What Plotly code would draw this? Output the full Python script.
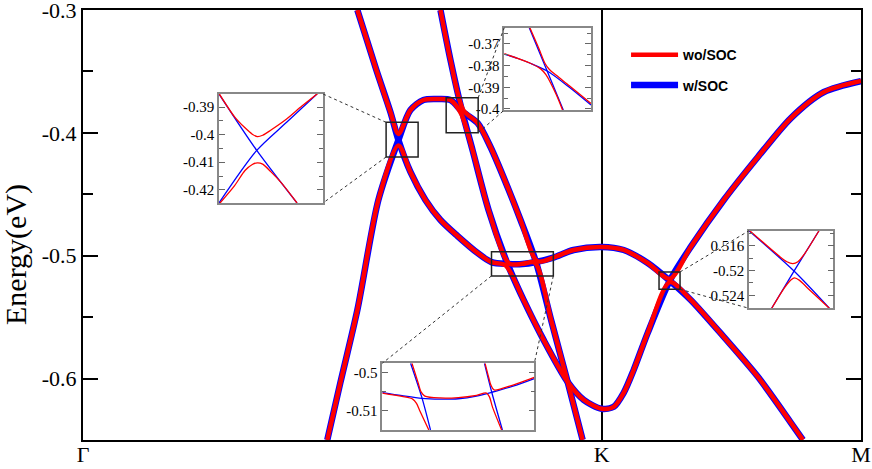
import plotly.graph_objects as go

# ---------------- data ----------------
K_RANGE = [0.0, 1.5]
E_RANGE = [-0.65, -0.29995]
kpt_pos = [0.0, 1.0, 1.5]
kpt_lbl = ["Γ", "K", "M"]
ytick_vals = [-0.6, -0.5, -0.4, -0.3]
ytick_text = ["-0.6", "-0.5", "-0.4", "-0.3"]
series_names = ["wo/SOC", "w/SOC"]
y_title = "Energy(eV)"

# w/SOC (blue) bands, crossings kept
bandP_k = [0.5290, 0.5656, 0.5927, 0.6081, 0.6313, 0.6602, 0.6892, 0.7220, 0.7606, 0.7876,
           0.8186, 0.8472, 0.8734, 0.9068, 0.9459, 1.0, 1.0425, 1.0888, 1.1313, 1.1718,
           1.2355, 1.3012, 1.3649, 1.3880]
bandP_e = [-0.3000, -0.3488, -0.3830, -0.4058, -0.4318, -0.4546, -0.4709, -0.4839, -0.4977, -0.5052,
           -0.5067, -0.5068, -0.5051, -0.5015, -0.4953, -0.4928, -0.4953, -0.5059, -0.5203, -0.5360,
           -0.5661, -0.5986, -0.6360, -0.6499]
bandQ_k = [0.4710, 0.4961, 0.5290, 0.5695, 0.6081, 0.6313, 0.6564, 0.6834, 0.7085, 0.7310,
           0.7606, 0.7857, 0.8185, 0.8436, 0.8734, 0.9035, 0.9344, 0.9633]
bandQ_e = [-0.6499, -0.6035, -0.5441, -0.4546, -0.4058, -0.3814, -0.3732, -0.3724, -0.3732, -0.3826,
           -0.3919, -0.4115, -0.4440, -0.4709, -0.5051, -0.5539, -0.6027, -0.6499]
bandR_k = [0.6892, 0.7085, 0.7310, 0.7510, 0.7819, 0.8186, 0.8494, 0.8880, 0.9344, 0.9653,
           1.0, 1.0232, 1.0425, 1.0618, 1.0888, 1.1313, 1.1718, 1.2355, 1.3012, 1.3649,
           1.4286, 1.5]
bandR_e = [-0.3000, -0.3407, -0.3826, -0.4139, -0.4627, -0.5067, -0.5360, -0.5685, -0.6027, -0.6173,
           -0.6246, -0.6230, -0.6116, -0.5929, -0.5628, -0.5203, -0.4928, -0.4546, -0.4196, -0.3879,
           -0.3667, -0.3578]

# wo/SOC (red) bands, anticrossings
red1_k = [0.5290, 0.5656, 0.5927, 0.6081, 0.6313, 0.6564, 0.6834, 0.7085, 0.7290, 0.7510,
          0.7819, 0.8215, 0.8472, 0.8710, 0.9035, 0.9344, 0.9633]
red1_e = [-0.3000, -0.3488, -0.3830, -0.4008, -0.3814, -0.3732, -0.3724, -0.3732, -0.3843, -0.4139,
          -0.4627, -0.5063, -0.5066, -0.5056, -0.5539, -0.6027, -0.6499]
red2_k = [0.4710, 0.4961, 0.5290, 0.5695, 0.6081, 0.6313, 0.6602, 0.6892, 0.7220, 0.7606,
          0.7876, 0.8150, 0.8494, 0.8880, 0.9344, 0.9653, 1.0, 1.0232, 1.0425, 1.0618,
          1.0888, 1.1313, 1.1718, 1.2355, 1.3012, 1.3649, 1.3880]
red2_e = [-0.6499, -0.6035, -0.5441, -0.4546, -0.4102, -0.4318, -0.4546, -0.4709, -0.4839, -0.4977,
          -0.5052, -0.5080, -0.5360, -0.5685, -0.6027, -0.6173, -0.6246, -0.6230, -0.6116, -0.5929,
          -0.5628, -0.5215, -0.5360, -0.5661, -0.5986, -0.6360, -0.6499]
red3_k = [0.6892, 0.7085, 0.7330, 0.7606, 0.7857, 0.8185, 0.8436, 0.8760, 0.9068, 0.9459,
          1.0, 1.0425, 1.0888, 1.1313, 1.1718, 1.2355, 1.3012, 1.3649, 1.4286, 1.5]
red3_e = [-0.3000, -0.3407, -0.3812, -0.3919, -0.4115, -0.4440, -0.4709, -0.5045, -0.5015, -0.4953,
          -0.4928, -0.4953, -0.5059, -0.5188, -0.4928, -0.4546, -0.4196, -0.3879, -0.3667, -0.3578]

# zoom windows drawn on the main plot (k range, E range)
box_k = [[0.5844, 0.6461], [0.7002, 0.7619], [0.7876, 0.9068], [1.1106, 1.1511]]
box_e = [[-0.4196, -0.3914], [-0.3999, -0.3714], [-0.5164, -0.4967], [-0.5273, -0.5132]]

# inset 1 (crossing near -0.405), x = fraction of window
in1_range = [-0.4248, -0.3852]
in1_ticks = [-0.42, -0.41, -0.4, -0.39]
in1_text = ["-0.42", "-0.41", "-0.4", "-0.39"]
in1_blue = [([0.0, 0.363, 0.75], [-0.3852, -0.4057, -0.4248]),
            ([0.0, 0.363, 0.653, 0.942], [-0.4248, -0.4057, -0.3954, -0.3852])]
in1_red = [([0.0, 0.15, 0.25, 0.32, 0.37, 0.42, 0.50, 0.65, 0.80, 0.95],
            [-0.3850, -0.3935, -0.3975, -0.3998, -0.4007, -0.4002, -0.3983, -0.3943, -0.3895, -0.3850]),
           ([0.01, 0.15, 0.25, 0.32, 0.37, 0.42, 0.50, 0.60, 0.75],
            [-0.4248, -0.4185, -0.4130, -0.4108, -0.4102, -0.4107, -0.4135, -0.4175, -0.4248])]

# inset 2 (crossing near -0.383)
in2_range = [-0.4005, -0.3625]
in2_ticks = [-0.4, -0.39, -0.38, -0.37]
in2_text = ["-0.4", "-0.39", "-0.38", "-0.37"]
in2_blue = [([0.0, 0.15, 0.3, 0.5, 0.75, 1.0], [-0.3747, -0.3766, -0.3789, -0.3826, -0.3900, -0.3982]),
            ([0.288, 0.5, 0.68], [-0.3625, -0.3831, -0.4005])]
in2_red = [([0.295, 0.40, 0.47, 0.52, 0.60, 0.75, 1.0],
            [-0.3625, -0.3722, -0.3790, -0.3818, -0.3845, -0.3893, -0.3975]),
           ([0.0, 0.3, 0.42, 0.48, 0.53, 0.60, 0.672],
            [-0.3745, -0.3789, -0.3815, -0.3842, -0.3877, -0.3935, -0.4005])]

# inset 3 (flat band near -0.506)
in3_range = [-0.515, -0.4975]
in3_ticks = [-0.51, -0.5]
in3_text = ["-0.51", "-0.5"]
in3_blue = [([0.0, 0.13, 0.26, 0.38, 0.5, 0.62, 0.72, 0.86, 1.0],
             [-0.5052, -0.5060, -0.5067, -0.5069, -0.5068, -0.5061, -0.5051, -0.5035, -0.5015]),
            ([0.186, 0.262, 0.317], [-0.4975, -0.5067, -0.5150]),
            ([0.672, 0.72, 0.79], [-0.4975, -0.5051, -0.5150])]
in3_red = [([0.195, 0.235, 0.255, 0.28, 0.38, 0.5, 0.62, 0.685, 0.705, 0.725, 0.785],
            [-0.4975, -0.5025, -0.5050, -0.5061, -0.5066, -0.5065, -0.5059, -0.5053, -0.5063, -0.5090, -0.5150]),
           ([0.0, 0.13, 0.20, 0.225, 0.245, 0.306],
            [-0.5053, -0.5062, -0.5069, -0.5080, -0.5098, -0.5150]),
           ([0.676, 0.70, 0.715, 0.735, 0.86, 1.0],
            [-0.4975, -0.5012, -0.5033, -0.5045, -0.5032, -0.5012])]

# inset 4 (crossing near -0.520)
in4_range = [-0.5261, -0.5136]
in4_ticks = [-0.524, -0.52, -0.516]
in4_text = ["0.524", "-0.52", "0.516"]
in4_blue = [([0.0, 0.534, 0.953], [-0.5136, -0.5201, -0.5261]),
            ([0.269, 0.534, 0.83], [-0.5261, -0.5201, -0.5136])]
in4_red = [([0.0, 0.35, 0.45, 0.52, 0.58, 0.65, 0.83],
            [-0.5135, -0.5176, -0.5186, -0.5189, -0.5186, -0.5175, -0.5136]),
           ([0.27, 0.42, 0.50, 0.54, 0.60, 0.70, 0.953],
            [-0.5261, -0.5228, -0.5215, -0.5212, -0.5216, -0.5229, -0.5261])]

# ---------------- style / layout ----------------
W, H = 872, 469
ML, MR, MT, MB = 83, 11, 10, 29
RED = "#ff0000"
BLUE = "#0000ff"
SERIF = "Liberation Serif"

# inset placements (paper fractions): x domain, y domain
inset_dom = [
    ([0.1748, 0.3085], [0.5512, 0.8047]),
    ([0.5415, 0.6530], [0.7674, 0.9588]),
    ([0.3847, 0.5801], [0.0233, 0.1784]),
    ([0.8560, 0.9644], [0.3063, 0.4867]),
]
inset_minor = [0.005, 0.005, 0.005, 0.002]

fig = go.Figure()

for i, (k, e) in enumerate([(bandP_k, bandP_e), (bandQ_k, bandQ_e), (bandR_k, bandR_e)]):
    fig.add_trace(go.Scatter(x=k, y=e, mode="lines", line=dict(color=BLUE, width=6.5, shape="spline", smoothing=0.8),
                             name=series_names[1], showlegend=(i == 0), legendgroup="b", legendrank=2,
                             hoverinfo="skip"))
for i, (k, e) in enumerate([(red1_k, red1_e), (red2_k, red2_e), (red3_k, red3_e)]):
    fig.add_trace(go.Scatter(x=k, y=e, mode="lines", line=dict(color=RED, width=4.5, shape="spline", smoothing=0.8),
                             name=series_names[0], showlegend=(i == 0), legendgroup="a", legendrank=1,
                             hoverinfo="skip"))

insets = [
    (in1_range, in1_ticks, in1_text, in1_blue, in1_red),
    (in2_range, in2_ticks, in2_text, in2_blue, in2_red),
    (in3_range, in3_ticks, in3_text, in3_blue, in3_red),
    (in4_range, in4_ticks, in4_text, in4_blue, in4_red),
]

layout = dict(
    width=W, height=H,
    margin=dict(l=ML, r=MR, t=MT, b=MB, autoexpand=False),
    paper_bgcolor="white", plot_bgcolor="white",
    showlegend=True,
    legend=dict(x=0.698, y=0.932, xanchor="left", yanchor="top", bgcolor="rgba(0,0,0,0)",
                font=dict(family="Liberation Sans", size=14, color="black", weight="bold"),
                tracegroupgap=9, itemwidth=47, traceorder="grouped"),
    xaxis=dict(range=K_RANGE, domain=[0, 1], showline=True, mirror=True, linecolor="black", linewidth=2,
               tickvals=kpt_pos, ticktext=kpt_lbl, ticks="", showgrid=True, gridcolor="black", gridwidth=2,
               zeroline=False, tickfont=dict(family=SERIF, size=22, color="black"),
               ticklabeloverflow="allow", ticklabelstandoff=-6),
    yaxis=dict(range=E_RANGE, domain=[0, 1], showline=True, mirror="allticks", linecolor="black", linewidth=2,
               tickvals=ytick_vals, ticktext=ytick_text, ticks="inside", ticklen=15, tickwidth=1.5,
               tickcolor="black", showgrid=False, zeroline=False, ticklabeloverflow="allow",
               minor=dict(tickvals=[-0.55, -0.45, -0.35], ticks="inside", ticklen=10, tickwidth=1.5,
                          tickcolor="black", showgrid=False),
               tickfont=dict(family=SERIF, size=22, color="black")),
    annotations=[dict(text=y_title, textangle=-90, xref="paper", yref="paper",
                      x=-(ML - 16) / (W - ML - MR), y=(H - MB - 255) / (H - MT - MB),
                      xanchor="center", yanchor="middle", showarrow=False,
                      font=dict(family=SERIF, size=30, color="black"))],
)

shapes = []
for n, (rng, tv, tt, blues, reds) in enumerate(insets):
    ax = n + 2
    xd, yd = inset_dom[n]
    layout[f"xaxis{ax}"] = dict(domain=xd, range=[0, 1], anchor=f"y{ax}", showline=True, mirror=True,
                                linecolor="#888888", linewidth=1.5, showticklabels=False, ticks="",
                                showgrid=False, zeroline=False, fixedrange=True)
    layout[f"yaxis{ax}"] = dict(domain=yd, range=rng, anchor=f"x{ax}", showline=True, mirror="allticks",
                                linecolor="#888888", linewidth=1.5, tickvals=tv, ticktext=tt, ticks="inside",
                                ticklen=6, tickcolor="#666666", tickwidth=1, showgrid=False, zeroline=False,
                                minor=dict(dtick=inset_minor[n], ticks="inside", ticklen=4, tickcolor="#666666",
                                           showgrid=False),
                                tickfont=dict(family=SERIF, size=15, color="black"), fixedrange=True)
    for (k, e) in blues:
        fig.add_trace(go.Scatter(x=k, y=e, xaxis=f"x{ax}", yaxis=f"y{ax}", mode="lines", showlegend=False,
                                 line=dict(color=BLUE, width=1.3, shape="spline", smoothing=0.8), hoverinfo="skip"))
    for (k, e) in reds:
        fig.add_trace(go.Scatter(x=k, y=e, xaxis=f"x{ax}", yaxis=f"y{ax}", mode="lines", showlegend=False,
                                 line=dict(color=RED, width=1.3, shape="spline", smoothing=0.8), hoverinfo="skip"))


def kx(k):
    return (k - K_RANGE[0]) / (K_RANGE[1] - K_RANGE[0])


def ey(e):
    return (e - E_RANGE[0]) / (E_RANGE[1] - E_RANGE[0])


for n in range(4):
    k0, k1 = box_k[n]
    e0, e1 = box_e[n]
    shapes.append(dict(type="rect", xref="x", yref="y", x0=k0, x1=k1, y0=e0, y1=e1,
                       line=dict(color="#222222", width=1.5), layer="above"))
    xd, yd = inset_dom[n]
    if n == 0:   # inset left of box
        pairs = [((kx(k0), ey(e1)), (xd[1], yd[1])), ((kx(k0), ey(e0)), (xd[1], yd[0]))]
    elif n == 2:  # inset below box
        pairs = [((kx(k0), ey(e0)), (xd[0], yd[1])), ((kx(k1), ey(e0)), (xd[1], yd[1]))]
    else:         # inset right of box
        pairs = [((kx(k1), ey(e1)), (xd[0], yd[1])), ((kx(k1), ey(e0)), (xd[0], yd[0]))]
    for (a, b) in pairs:
        shapes.append(dict(type="line", xref="paper", yref="paper", x0=a[0], y0=a[1], x1=b[0], y1=b[1],
                           line=dict(color="#333333", width=1, dash="dot"), layer="above"))

layout["shapes"] = shapes
fig.update_layout(**layout)
fig.write_html("out.html", config={"displayModeBar": False},
               post_script="document.body.style.margin='0px';document.body.style.overflow='hidden';")
